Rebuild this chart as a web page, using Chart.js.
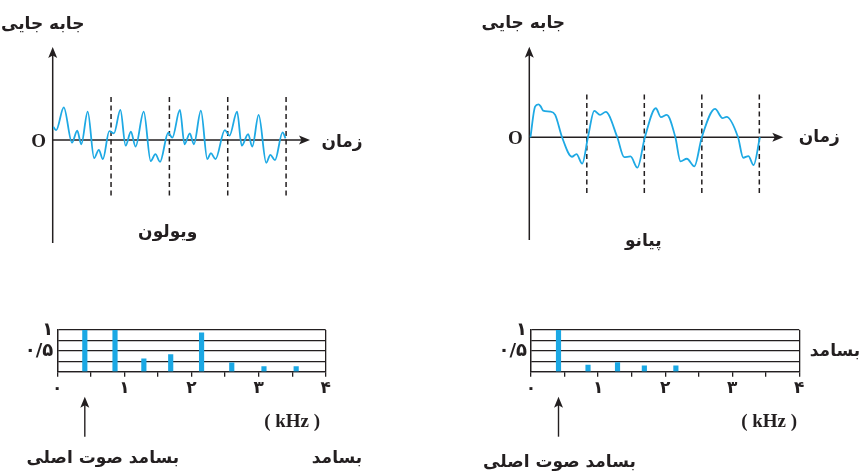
<!DOCTYPE html>
<html><head><meta charset="utf-8">
<script src="https://cdn.jsdelivr.net/npm/chart.js@4"></script>
<style>
html,body{margin:0;padding:0;background:#fff}
body{width:859px;height:472px;overflow:hidden;position:relative}
.box{position:absolute}
canvas{display:block}
</style></head><body>
<div class="box" style="left:0;top:0"><canvas id="c1" width="430" height="260"></canvas></div>
<div class="box" style="left:430px;top:0"><canvas id="c2" width="429" height="260"></canvas></div>
<div class="box" style="left:0;top:260px"><canvas id="c3" width="430" height="212"></canvas></div>
<div class="box" style="left:430px;top:260px"><canvas id="c4" width="429" height="212"></canvas></div>
<script>
// ---- data ----
// violin displacement (time in periods, displacement in relative units)
const violinTime = [0.01,0.06,0.19,0.33,0.42,0.49,0.60,0.71,0.79,0.86,0.97,1.05,1.16,1.25,1.34,1.42,1.56,1.68,1.76,1.84,1.98,2.05,2.18,2.26,2.35,2.42,2.54,2.65,2.71,2.79,2.95,3.03,3.16,3.24,3.35,3.42,3.53,3.66,3.73,3.81,3.94,3.99];
const violinDisp = [0.40,0.30,0.99,-0.08,0.28,-0.13,0.86,-0.55,-0.30,-0.58,0.27,0.20,0.91,-0.17,0.25,-0.20,0.86,-0.64,-0.43,-0.66,0.22,0.07,0.91,-0.13,0.20,-0.13,0.89,-0.58,-0.40,-0.58,0.30,0.13,0.86,-0.17,0.18,-0.20,0.76,-0.69,-0.45,-0.61,0.23,0.05];
// piano displacement
const pianoTime = [0.02,0.10,0.16,0.20,0.24,0.36,0.45,0.57,0.74,0.82,0.92,1.02,1.13,1.23,1.33,1.53,1.65,1.76,1.88,2.01,2.20,2.29,2.39,2.54,2.63,2.74,2.87,3.00,3.23,3.36,3.43,3.63,3.72,3.81,3.90,4.01];
const pianoDisp = [0,0.93,1.00,0.93,0.81,0.78,0.68,0,-0.59,-0.51,-0.80,0,0.80,0.68,0.77,0,-0.60,-0.58,-0.92,0,0.88,0.61,0.68,0,-0.73,-0.65,-0.88,0,0.86,0.58,0.62,0,-0.62,-0.57,-0.84,0];
const periodMarks = [1,2,3,4];
// spectra (kHz, relative amplitude)
const violinFreq = [0.41,0.86,1.29,1.69,2.15,2.60,3.08,3.56];
const violinAmp  = [1.00,1.00,0.31,0.41,0.93,0.21,0.12,0.12];
const pianoFreq  = [0.41,0.85,1.29,1.69,2.16];
const pianoAmp   = [1.00,0.16,0.22,0.14,0.14];
const freqTickLabels = ['۰','۱','۲','۳','۴'];
const ampTickLabels = {'1':'۱','0.5':'۰/۵'};

// ---- styles ----
const INK = '#231f20';
const WAVE = '#1ea9e4';
const BAR = '#1ba8e4';
const FA = '"DejaVu Sans", sans-serif';
const SERIF = '"Liberation Serif", "DejaVu Serif", serif';

function arrowHead(ctx, x, y, dir) {
  ctx.beginPath();
  if (dir === 'up') { ctx.moveTo(x, y); ctx.lineTo(x-4.5, y+11); ctx.lineTo(x, y+8.5); ctx.lineTo(x+4.5, y+11); }
  else { ctx.moveTo(x, y); ctx.lineTo(x-11, y-4.5); ctx.lineTo(x-8.5, y); ctx.lineTo(x-11, y+4.5); }
  ctx.closePath(); ctx.fill();
}

function wavePlugin(o) {
  return {
    id: 'waveDeco',
    beforeDatasetsDraw(chart) {
      const {ctx, chartArea:a, scales:{x, y}} = chart;
      const x0 = x.getPixelForValue(0), y0 = y.getPixelForValue(0);
      ctx.save();
      ctx.strokeStyle = INK; ctx.fillStyle = INK; ctx.lineWidth = 1.5;
      ctx.setLineDash([5, 3.5]);
      periodMarks.forEach(p => {
        const px = x.getPixelForValue(p);
        ctx.beginPath(); ctx.moveTo(px, y.getPixelForValue(1.3)); ctx.lineTo(px, y.getPixelForValue(-1.73)); ctx.stroke();
      });
      ctx.setLineDash([]);
      ctx.beginPath(); ctx.moveTo(x0, a.bottom); ctx.lineTo(x0, a.top + 6); ctx.stroke();
      arrowHead(ctx, x0, a.top, 'up');
      ctx.beginPath(); ctx.moveTo(x0, y0); ctx.lineTo(a.right - 6, y0); ctx.stroke();
      arrowHead(ctx, a.right, y0, 'right');
      ctx.restore();
    },
    afterDraw(chart) {
      const {ctx, chartArea:a, scales:{x, y}} = chart;
      const x0 = x.getPixelForValue(0), y0 = y.getPixelForValue(0);
      ctx.save();
      ctx.fillStyle = INK; ctx.textAlign = 'center'; ctx.textBaseline = 'middle';
      ctx.font = 'bold 17px ' + FA;
      ctx.fillText('جابه جایی', x0 + o.yTitleDx, a.top - o.yTitleDy);
      ctx.fillText('زمان', a.right + o.xTitleDx, y0 + o.xTitleDy);
      ctx.fillText(o.name, x0 + o.nameDx, a.bottom + o.nameDy);
      ctx.font = 'bold 19px ' + SERIF;
      ctx.fillText('O', x0 - 14, y0 + 2);
      ctx.restore();
    }
  };
}

function waveChart(id, times, disp, o) {
  return new Chart(document.getElementById(id), {
    type: 'line',
    data: { datasets: [{ data: times.map((t, i) => ({x: t, y: disp[i]})), borderColor: WAVE, borderWidth: 1.8,
      pointRadius: 0, fill: false, cubicInterpolationMode: 'monotone' }] },
    options: {
      responsive: false, animation: false, events: [],
      layout: { padding: o.pad },
      plugins: { legend: {display: false}, tooltip: {enabled: false}, title: {display: false} },
      scales: {
        x: { type: 'linear', display: false, min: 0, max: o.xmax },
        y: { type: 'linear', display: false, min: o.ymin, max: o.ymax }
      }
    },
    plugins: [wavePlugin(o)]
  });
}

function specPlugin(o) {
  return {
    id: 'specDeco',
    afterDraw(chart) {
      const {ctx, chartArea:a, scales:{x}} = chart;
      ctx.save();
      ctx.fillStyle = INK; ctx.strokeStyle = INK; ctx.lineWidth = 1.4;
      const fx = x.getPixelForValue(o.fund);
      ctx.beginPath(); ctx.moveTo(fx, a.bottom + 65); ctx.lineTo(fx, a.bottom + 30); ctx.stroke();
      arrowHead(ctx, fx, a.bottom + 25, 'up');
      ctx.textAlign = 'center'; ctx.textBaseline = 'middle';
      ctx.font = 'bold 19px ' + SERIF;
      ctx.fillText('( kHz )', x.getPixelForValue(o.kHzAt), a.bottom + 50);
      ctx.font = 'bold 17px ' + FA;
      ctx.fillText('بسامد صوت اصلی', fx + o.mainDx, a.bottom + o.mainDy);
      ctx.fillText('بسامد', o.fLabel[0], o.fLabel[1]);
      ctx.restore();
    }
  };
}

function specChart(id, freqs, amps, o) {
  return new Chart(document.getElementById(id), {
    type: 'bar',
    data: { datasets: [{ data: freqs.map((f, i) => ({x: f, y: amps[i]})), backgroundColor: BAR, borderWidth: 0, barThickness: 4.5 }] },
    options: {
      responsive: false, animation: false, events: [],
      layout: { padding: o.pad },
      plugins: { legend: {display: false}, tooltip: {enabled: false} },
      scales: {
        x: {
          type: 'linear', min: 0, max: 4, offset: false, z: 1,
          afterFit: s => { s.height = 30; },
          ticks: { stepSize: 0.5, autoSkip: false, maxRotation: 0, padding: 2, color: INK,
            font: { family: FA, weight: 'bold', size: 17 },
            callback: v => Number.isInteger(v) ? freqTickLabels[v] : '' },
          grid: { offset: false, drawOnChartArea: true, lineWidth: 1.3, tickLength: 5, tickColor: INK,
            color: c => (c.tick && (c.tick.value === 0 || c.tick.value === 4)) ? INK : 'rgba(0,0,0,0)' },
          border: { display: true, color: INK, width: 1.3 }
        },
        y: {
          type: 'linear', min: 0, max: 1, z: 1,
          afterFit: s => { s.width = 30; },
          ticks: { stepSize: 0.25, autoSkip: false, padding: 4, color: INK, font: { family: FA, weight: 'bold', size: 18 },
            callback: v => ampTickLabels[String(v)] || '' },
          grid: { color: INK, lineWidth: 1.3, drawTicks: false },
          border: { display: true, color: INK, width: 1.3 }
        }
      }
    },
    plugins: [specPlugin(o)]
  });
}

waveChart('c1', violinTime, violinDisp, {
  pad: {left: 52.7, top: 47, right: 120, bottom: 17}, xmax: 4.41, ymin: -3.121, ymax: 2.818,
  name: 'ویولون', yTitleDx: -10, yTitleDy: 22, xTitleDx: 32, xTitleDy: 3, nameDx: 115, nameDy: -10
});
waveChart('c2', pianoTime, pianoDisp, {
  pad: {left: 99.3, top: 46.7, right: 75.7, bottom: 20}, xmax: 4.417, ymin: -3.112, ymax: 2.745,
  name: 'پیانو', yTitleDx: -6, yTitleDy: 23.5, xTitleDx: 36, xTitleDy: 0, nameDx: 114, nameDy: 2
});
specChart('c3', violinFreq, violinAmp, {
  pad: {left: 27.3, top: 70, right: 104.3, bottom: 70.3}, fund: violinFreq[0], kHzAt: 3.5,
  mainDx: 18, mainDy: 87, fLabel: [337, 199]
});
specChart('c4', pianoFreq, pianoAmp, {
  pad: {left: 71, top: 70, right: 59.7, bottom: 70.3}, fund: pianoFreq[0], kHzAt: 3.55,
  mainDx: 1, mainDy: 91, fLabel: [405, 92]
});
</script>
</body></html>
